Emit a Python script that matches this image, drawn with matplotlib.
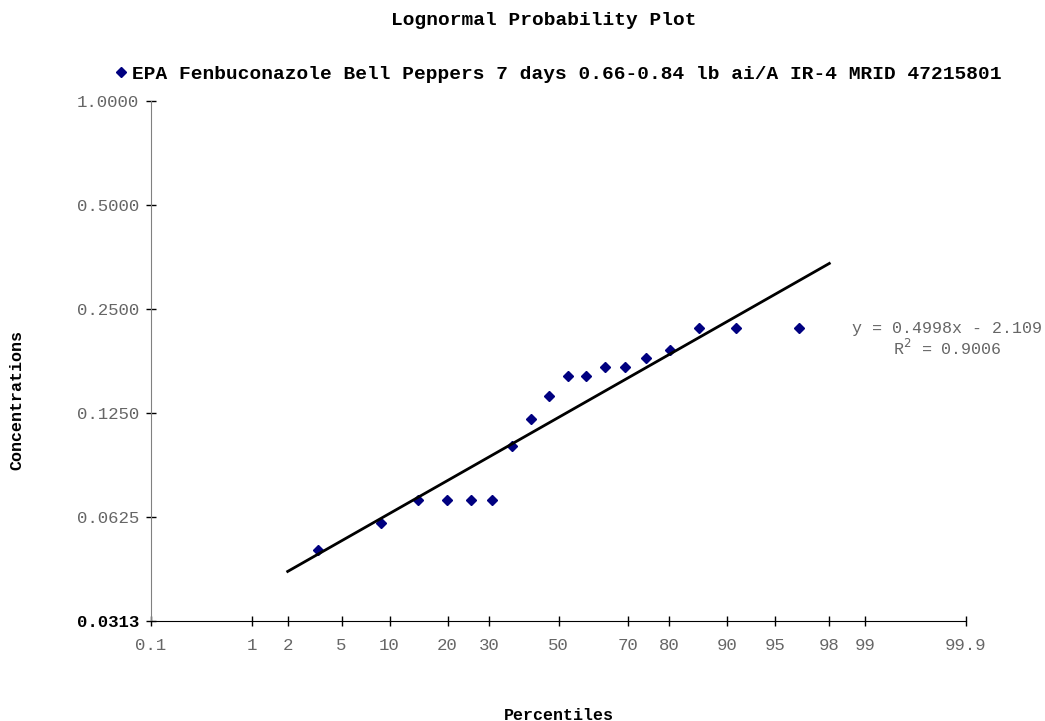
import numpy as np
import matplotlib
matplotlib.use("Agg")
import matplotlib.pyplot as plt
from matplotlib.ticker import FixedLocator, FixedFormatter, NullLocator
from statistics import NormalDist

# data (18 residues, Blom plotting positions)
concentrations = [0.05, 0.06, 0.07, 0.07, 0.07, 0.07, 0.10, 0.12, 0.14,
                  0.16, 0.16, 0.17, 0.17, 0.18, 0.19, 0.22, 0.22, 0.22]
slope = 0.4998
intercept = -2.109
r_squared = 0.9006

pct_ticks = [0.1, 1, 2, 5, 10, 20, 30, 50, 70, 80, 90, 95, 98, 99, 99.9]
pct_labels = ["0.1", "1", "2", "5", "10", "20", "30", "50", "70", "80",
              "90", "95", "98", "99", "99.9"]
conc_ticks = [0.03125, 0.0625, 0.125, 0.25, 0.5, 1.0]
conc_labels = ["0.0313", "0.0625", "0.1250", "0.2500", "0.5000", "1.0000"]
series_name = "EPA Fenbuconazole Bell Peppers 7 days 0.66-0.84 lb ai/A IR-4 MRID 47215801"

nd = NormalDist()
def z_of(p):
    return nd.inv_cdf(p / 100.0)

n = len(concentrations)
pos = [(i - 0.375) / (n + 0.25) * 100 for i in range(1, n + 1)]
x_pts = [z_of(p) for p in pos]

# fitted line ln(conc) = slope*z + intercept, drawn from 2% to 98%
z_line = np.array([z_of(2), z_of(98)])
c_line = np.exp(slope * z_line + intercept)

FONT = "Liberation Mono"
GREY = "#666666"

fig = plt.figure(figsize=(10.45, 7.21), dpi=100)
ax = fig.add_axes([0.1445, 0.1387, 0.9244 - 0.1445, 0.8599 - 0.1387])

ax.plot(x_pts, concentrations, linestyle="none", marker="D", markersize=5,
        color="#000080", label=series_name)
ax.plot(z_line, c_line, color="black", linewidth=2)

ax.set_yscale("log", base=2)
ax.set_ylim(0.03125, 1.0)
ax.set_xlim(z_of(0.1), z_of(99.9))

ax.xaxis.set_major_locator(FixedLocator([z_of(p) for p in pct_ticks]))
ax.xaxis.set_major_formatter(FixedFormatter(pct_labels))
ax.yaxis.set_major_locator(FixedLocator(conc_ticks))
ax.yaxis.set_major_formatter(FixedFormatter(conc_labels))
ax.yaxis.set_minor_locator(NullLocator())
ax.xaxis.set_minor_locator(NullLocator())

for s in ["top", "right"]:
    ax.spines[s].set_visible(False)
ax.spines["left"].set_color("#808080")
ax.spines["bottom"].set_color("black")
ax.tick_params(direction="inout", length=7, width=1, colors="black",
               labelcolor=GREY, labelsize=12.5)
ax.tick_params(axis="x", pad=9)
ax.tick_params(axis="y", pad=5)
for lbl in ax.get_xticklabels() + ax.get_yticklabels():
    lbl.set_fontfamily(FONT)
ylbls = ax.get_yticklabels()
ylbls[0].set_color("black")
ylbls[0].set_fontweight("bold")

ax.set_xlabel("Percentiles", fontfamily=FONT, fontweight="bold", fontsize=12)
ax.xaxis.set_label_coords(0.5, -0.181)
ax.xaxis.label.set_va("center")
ax.set_ylabel("Concentrations", fontfamily=FONT, fontweight="bold", fontsize=12)
ax.yaxis.set_label_coords(-0.1644, 0.425)
ax.yaxis.label.set_va("center")

fig.text(0.5206, 0.972, "Lognormal Probability Plot", ha="center", va="center",
         fontfamily=FONT, fontweight="bold", fontsize=14)

leg = ax.legend(loc="center", bbox_to_anchor=(0.5, 1.052), frameon=False,
                handlelength=0.6, handletextpad=0.25, borderaxespad=0,
                prop={"family": FONT, "weight": "bold", "size": 14})

ax.text(z_of(99.9) + 0.58, 0.22, f"y = {slope}x - {abs(intercept)}",
        ha="right", va="center", fontfamily=FONT, fontsize=12, color=GREY,
        clip_on=False)
ax.text(z_of(99.9) + 0.27, 0.193, f"R$^2$ = {r_squared}",
        ha="right", va="center", fontfamily=FONT, fontsize=12, color=GREY,
        clip_on=False)

fig.savefig("out.png", dpi=100)
